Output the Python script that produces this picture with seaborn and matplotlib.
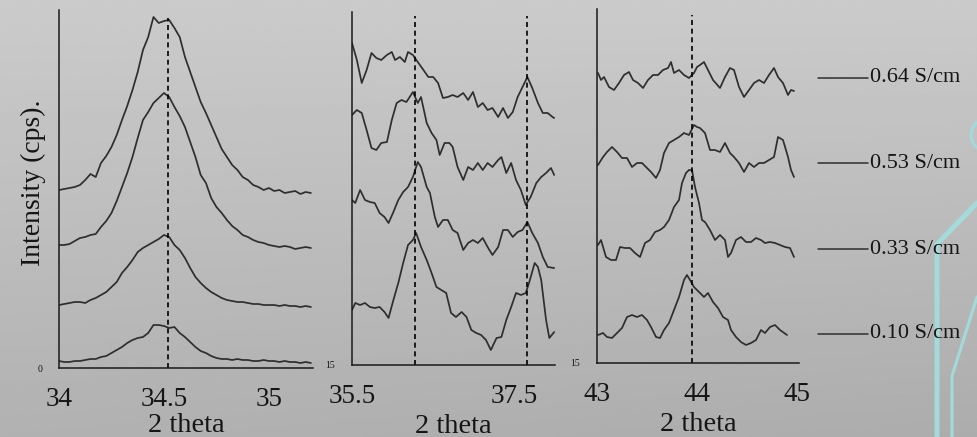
import numpy as np
import pandas as pd
import matplotlib
matplotlib.use("Agg")
import matplotlib.pyplot as plt
from matplotlib.lines import Line2D
import seaborn as sns

sns.set_theme(style="white")
plt.rcParams["font.family"] = ["Liberation Serif", "DejaVu Serif"]

# ---------------- data ----------------
labels = ["0.64 S/cm", "0.53 S/cm", "0.33 S/cm", "0.10 S/cm"]

# panel 1 (34 - 35.2)
p1_x = [34.000, 34.025, 34.050, 34.075, 34.100, 34.125, 34.150, 34.175, 34.200, 34.225,
        34.250, 34.275, 34.300, 34.325, 34.350, 34.375, 34.400, 34.425, 34.450, 34.475,
        34.500, 34.525, 34.550, 34.575, 34.600, 34.625, 34.650, 34.675, 34.700, 34.725,
        34.750, 34.775, 34.800, 34.825, 34.850, 34.875, 34.900, 34.925, 34.950, 34.975,
        35.000, 35.025, 35.050, 35.075, 35.100, 35.125, 35.150, 35.175, 35.200]
p1_064 = [178, 179, 180, 181, 183, 188, 194, 191, 205, 212, 221, 233, 248, 262, 278, 296, 318, 331,
          351, 345, 347, 348, 340, 331, 311, 296, 281, 266, 255, 243, 231, 219, 211, 203, 198, 191,
          188, 183, 181, 178, 180, 177, 178, 175, 176, 177, 174, 176, 175]
p1_053 = [123, 123, 124, 127, 130, 131, 133, 134, 141, 147, 155, 167, 181, 195, 211, 230, 248, 256,
          265, 270, 275, 271, 261, 252, 241, 226, 211, 193, 185, 170, 161, 155, 148, 142, 138, 133,
          131, 128, 126, 125, 123, 122, 121, 122, 121, 119, 120, 121, 120]
p1_033 = [63, 64, 65, 66, 66, 65, 68, 70, 73, 76, 81, 86, 95, 101, 108, 116, 120, 123, 126, 129,
          133, 131, 123, 118, 110, 100, 91, 85, 80, 76, 73, 70, 68, 67, 66, 66, 65, 64, 64, 63,
          63, 63, 62, 63, 62, 62, 61, 62, 61]
p1_010 = [7, 6, 6, 7, 7, 8, 9, 9, 11, 12, 15, 18, 21, 25, 28, 30, 31, 35, 43, 43, 42, 40, 41, 35,
          31, 26, 21, 17, 15, 12, 10, 9, 9, 8, 9, 8, 8, 7, 7, 8, 7, 7, 6, 7, 6, 6, 5, 6, 5]

# panel 2 (35.5 - 38)
p2_x_064 = [35.50, 35.56, 35.62, 35.68, 35.74, 35.80, 35.86, 35.93, 35.99, 36.03, 36.09, 36.15,
            36.19, 36.25, 36.31, 36.38, 36.44, 36.50, 36.56, 36.62, 36.68, 36.74, 36.80, 36.87,
            36.93, 36.99, 37.05, 37.11, 37.17, 37.23, 37.30, 37.36, 37.42, 37.48, 37.54, 37.60,
            37.66, 37.72, 37.79, 37.85, 37.91, 37.97, 37.99]
p2_064 = [322, 305, 282, 295, 312, 307, 305, 310, 313, 305, 308, 303, 313, 310, 303, 295, 288, 288,
          282, 267, 268, 270, 268, 272, 265, 273, 258, 262, 255, 257, 248, 257, 247, 253, 268, 278,
          288, 277, 262, 252, 252, 248, 247]
p2_x_053 = [35.50, 35.56, 35.62, 35.68, 35.74, 35.80, 35.86, 35.93, 35.99, 36.05, 36.11, 36.17,
            36.25, 36.31, 36.35, 36.42, 36.48, 36.54, 36.58, 36.64, 36.70, 36.74, 36.80, 36.87,
            36.93, 36.99, 37.05, 37.11, 37.17, 37.23, 37.30, 37.34, 37.40, 37.46, 37.52, 37.58,
            37.64, 37.70, 37.77, 37.83, 37.89, 37.95, 37.99]
p2_053 = [250, 255, 252, 235, 217, 215, 222, 223, 245, 262, 265, 263, 273, 262, 268, 242, 232, 225,
          210, 222, 222, 218, 198, 185, 198, 195, 202, 195, 202, 198, 205, 208, 192, 202, 185, 175,
          160, 168, 182, 188, 192, 197, 190]
p2_x_033 = [35.50, 35.54, 35.60, 35.66, 35.72, 35.78, 35.84, 35.90, 35.95, 36.01, 36.07, 36.13,
            36.19, 36.25, 36.31, 36.35, 36.42, 36.46, 36.52, 36.56, 36.62, 36.68, 36.74, 36.80,
            36.87, 36.93, 36.99, 37.05, 37.11, 37.17, 37.23, 37.30, 37.36, 37.42, 37.48, 37.54,
            37.60, 37.66, 37.72, 37.79, 37.85, 37.91, 37.99]
p2_033 = [165, 162, 175, 165, 163, 162, 152, 148, 142, 153, 165, 173, 178, 188, 203, 198, 178, 172,
          148, 138, 145, 145, 135, 132, 115, 122, 125, 122, 127, 118, 110, 118, 135, 135, 128, 133,
          135, 143, 132, 122, 108, 98, 97]
p2_x_010 = [35.50, 35.54, 35.60, 35.66, 35.72, 35.78, 35.84, 35.90, 35.95, 36.01, 36.07, 36.13,
            36.19, 36.25, 36.29, 36.35, 36.42, 36.48, 36.54, 36.60, 36.66, 36.72, 36.78, 36.85,
            36.91, 36.97, 37.03, 37.09, 37.15, 37.21, 37.28, 37.34, 37.40, 37.46, 37.52, 37.58,
            37.64, 37.68, 37.75, 37.79, 37.83, 37.89, 37.93, 37.99]
p2_010 = [55, 62, 60, 62, 58, 57, 58, 53, 47, 65, 82, 102, 120, 125, 132, 118, 105, 92, 78, 75, 72,
          52, 48, 53, 48, 35, 32, 30, 25, 15, 27, 28, 45, 58, 72, 70, 72, 82, 102, 98, 85, 45, 27, 33]

# panel 3 (43 - 45)
p3_x_064 = [43.01, 43.04, 43.07, 43.12, 43.17, 43.22, 43.27, 43.32, 43.36, 43.41, 43.46, 43.51,
            43.56, 43.61, 43.66, 43.71, 43.74, 43.77, 43.82, 43.87, 43.92, 43.97, 44.00, 44.03,
            44.07, 44.11, 44.16, 44.23, 44.28, 44.33, 44.37, 44.42, 44.47, 44.52, 44.57, 44.62,
            44.67, 44.72, 44.77, 44.81, 44.86, 44.91, 44.94, 44.97]
p3_064 = [290, 283, 286, 276, 273, 280, 288, 291, 283, 280, 275, 283, 288, 288, 293, 295, 301, 290,
          293, 288, 285, 290, 296, 298, 301, 293, 283, 275, 286, 295, 293, 276, 266, 273, 280, 283,
          280, 288, 295, 286, 280, 268, 273, 272]
p3_x_053 = [43.01, 43.06, 43.10, 43.15, 43.20, 43.25, 43.30, 43.35, 43.40, 43.45, 43.50, 43.54,
            43.59, 43.63, 43.67, 43.72, 43.77, 43.82, 43.87, 43.92, 43.97, 44.00, 44.03, 44.08,
            44.13, 44.18, 44.23, 44.28, 44.33, 44.37, 44.42, 44.47, 44.52, 44.57, 44.62, 44.67,
            44.72, 44.77, 44.81, 44.86, 44.91, 44.94, 44.97]
p3_053 = [198, 206, 211, 216, 211, 205, 205, 196, 200, 200, 195, 191, 185, 193, 210, 220, 223, 226,
          230, 228, 238, 236, 235, 230, 213, 213, 211, 220, 210, 206, 200, 191, 200, 196, 200, 200,
          203, 206, 226, 223, 206, 193, 186]
p3_x_033 = [43.01, 43.04, 43.09, 43.14, 43.19, 43.23, 43.28, 43.33, 43.38, 43.43, 43.48, 43.53,
            43.58, 43.63, 43.67, 43.72, 43.77, 43.82, 43.85, 43.89, 43.92, 43.95, 43.98, 44.02,
            44.05, 44.08, 44.13, 44.18, 44.23, 44.28, 44.31, 44.34, 44.39, 44.44, 44.49, 44.54,
            44.59, 44.64, 44.68, 44.73, 44.78, 44.83, 44.88, 44.93, 44.97]
p3_033 = [118, 123, 106, 103, 103, 116, 115, 115, 110, 106, 120, 123, 131, 133, 136, 143, 156, 163,
          180, 190, 193, 193, 176, 160, 143, 141, 133, 123, 128, 123, 106, 110, 123, 126, 121, 121,
          125, 123, 120, 121, 120, 118, 116, 115, 106]
p3_x_010 = [43.01, 43.06, 43.10, 43.15, 43.20, 43.25, 43.30, 43.35, 43.40, 43.45, 43.50, 43.54,
            43.59, 43.63, 43.67, 43.72, 43.77, 43.82, 43.87, 43.90, 43.93, 43.97, 44.02, 44.07,
            44.11, 44.16, 44.21, 44.26, 44.31, 44.34, 44.39, 44.44, 44.49, 44.54, 44.59, 44.64,
            44.68, 44.73, 44.78, 44.83, 44.90]
p3_010 = [28, 30, 26, 25, 30, 35, 46, 48, 46, 48, 43, 36, 26, 25, 33, 40, 53, 66, 83, 88, 83, 76,
          71, 66, 70, 61, 55, 46, 43, 33, 26, 21, 18, 20, 23, 33, 30, 36, 38, 33, 28]

p1_peaks = [34.52]
p2_peaks = [36.28, 37.66]
p3_peaks = [43.95]

p1_ticks, p1_ticklabels = [34, 34.5, 35], ["34", "34.5", "35"]
p2_ticks, p2_ticklabels = [35.5, 37.5], ["35.5", "37.5"]
p3_ticks, p3_ticklabels = [43, 44, 45], ["43", "44", "45"]

panels = [
    dict(curves=[(p1_x, p1_064), (p1_x, p1_053), (p1_x, p1_033), (p1_x, p1_010)],
         peaks=p1_peaks, ticks=p1_ticks, ticklabels=p1_ticklabels, ylab="0",
         xlim=(34.0, 35.21), ylim=(0, 358), rect=[59, 10, 313, 368], dash_top=0.978,
         lpad=0.8),
    dict(curves=[(p2_x_064, p2_064), (p2_x_053, p2_053), (p2_x_033, p2_033), (p2_x_010, p2_010)],
         peaks=p2_peaks, ticks=p2_ticks, ticklabels=p2_ticklabels, ylab="15",
         xlim=(35.5, 38.0), ylim=(0, 353), rect=[352, 12, 555, 365], dash_top=0.99,
         lpad=3.5),
    dict(curves=[(p3_x_064, p3_064), (p3_x_053, p3_053), (p3_x_033, p3_033), (p3_x_010, p3_010)],
         peaks=p3_peaks, ticks=p3_ticks, ticklabels=p3_ticklabels, ylab="15",
         xlim=(43.0, 45.02), ylim=(0, 354), rect=[597, 9, 799, 363], dash_top=0.983,
         lpad=3.5),
]

W, H = 977, 437
fig = plt.figure(figsize=(W / 100, H / 100), dpi=100)

# background gradient
bg = fig.add_axes([0, 0, 1, 1], zorder=-10)
gy = np.linspace(0, 1, 220)[:, None]
gx = np.linspace(0, 1, 440)[None, :]
grad = 0.795 - 0.10 * gy - 0.02 * gx * gy
bg.imshow(grad, cmap="gray", vmin=0, vmax=1, aspect="auto", extent=[0, 1, 0, 1], origin="upper")
bg.set_axis_off()

line_col = "#2e2e2e"
txt_col = "#151515"
for i, p in enumerate(panels):
    l, t, r, b = p["rect"]
    ax = fig.add_axes([l / W, 1 - b / H, (r - l) / W, (b - t) / H])
    ax.set_facecolor("none")
    for (xs, ys), lab in zip(p["curves"], labels):
        df = pd.DataFrame({"two_theta": xs, "intensity": ys})
        sns.lineplot(data=df, x="two_theta", y="intensity", ax=ax, color=line_col,
                     lw=1.25, estimator=None, sort=False)
    for pk in p["peaks"]:
        ax.axvline(pk, ymin=0, ymax=p["dash_top"], color="black", lw=1.2,
                   dashes=(3.0, 2.2))
    ax.set_xlim(*p["xlim"])
    ax.set_ylim(*p["ylim"])
    ax.set_xticks(p["ticks"])
    ax.set_xticklabels(p["ticklabels"], fontsize=19.5)
    ax.set_yticks([0])
    ax.set_yticklabels([p["ylab"]], fontsize=7)
    ax.tick_params(axis="x", length=0, pad=13.5, colors=txt_col)
    ax.tick_params(axis="y", length=0, pad=12, colors=txt_col)
    ax.set_xlabel("2 theta", fontsize=20.5, labelpad=p["lpad"], color=txt_col)
    if i == 0:
        ax.set_ylabel("Intensity (cps).", fontsize=20, color=txt_col)
        ax.yaxis.set_label_coords(-0.05, 0.517)
    else:
        ax.set_ylabel("")
    for s in ["top", "right"]:
        ax.spines[s].set_visible(False)
    for s in ["left", "bottom"]:
        ax.spines[s].set_color("#1a1a1a")
        ax.spines[s].set_linewidth(1.1)

# legend-like labels on the right
leg_y = [78, 163, 249, 334]
for yv, lab in zip(leg_y, labels):
    fig.add_artist(Line2D([818 / W, 868 / W], [1 - yv / H] * 2, transform=fig.transFigure,
                          color=line_col, lw=1.1))
    fig.text(870 / W, 1 - yv / H, lab, fontsize=16, va="center", ha="left", color=txt_col)

# decorative cyan lines
cyan = "#a3dada"
fig.add_artist(Line2D([937 / W, 937 / W, 977 / W], [0, 1 - 244 / H, 1 - 203 / H],
                      transform=fig.transFigure, color=cyan, lw=3.6, solid_joinstyle="miter"))
fig.add_artist(Line2D([952 / W, 952 / W, 977 / W], [0, 1 - 376 / H, 1 - 297 / H],
                      transform=fig.transFigure, color=cyan, lw=2.2))
th = np.linspace(np.pi * 0.55, np.pi * 1.45, 30)
fig.add_artist(Line2D((987 + 16 * np.cos(th)) / W, 1 - (135 - 16 * np.sin(th)) / H,
                      transform=fig.transFigure, color=cyan, lw=2.2))

fig.savefig("out.png", dpi=100)
